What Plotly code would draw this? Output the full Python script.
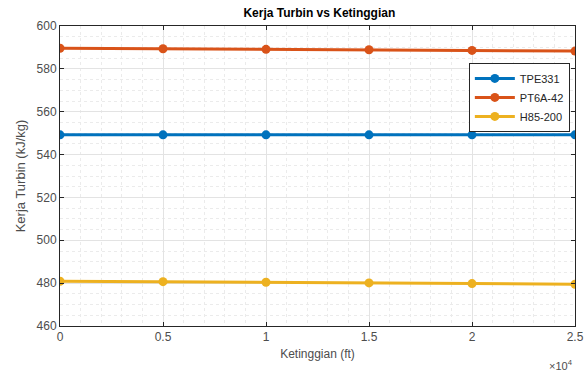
import plotly.graph_objects as go

altitude_ft = [0, 5000, 10000, 15000, 20000, 25000]
tpe331 = [549.2, 549.2, 549.2, 549.2, 549.2, 549.2]
pt6a42 = [589.6, 589.4, 589.1, 588.9, 588.6, 588.3]
h85200 = [480.9, 480.7, 480.4, 480.1, 479.8, 479.5]
x_tick_vals = [0, 5000, 10000, 15000, 20000, 25000]
x_tick_text = ["0", "0.5", "1", "1.5", "2", "2.5"]
y_tick_vals = [460, 480, 500, 520, 540, 560, 580, 600]

series = [("TPE331", tpe331, "#0072BD"), ("PT6A-42", pt6a42, "#D95319"), ("H85-200", h85200, "#EDB120")]

fig = go.Figure()
for name, vals, col in series:
    fig.add_trace(go.Scatter(x=altitude_ft, y=vals, name=name, mode="lines+markers",
                             line=dict(color=col, width=3), marker=dict(color=col, size=9)))

axis_common = dict(showline=True, linecolor="#262626", linewidth=1, mirror="ticks",
                   ticks="inside", ticklen=4, tickcolor="#262626", automargin=False,
                   showgrid=True, gridcolor="#e3e3e3", gridwidth=1, zeroline=False,
                   tickfont=dict(family="Liberation Sans, Arial", size=12, color="#4d4d4d"))

fig.update_layout(
    width=586, height=376,
    margin=dict(l=60, r=11, t=26, b=50),
    paper_bgcolor="white", plot_bgcolor="white",
    title=dict(text="<b>Kerja Turbin vs Ketinggian</b>", x=0.545, xanchor="center", y=0.967, yanchor="middle",
               font=dict(family="Liberation Sans, Arial", size=12, color="#000000")),
    legend=dict(x=0.99, xanchor="right", y=0.877, yanchor="top", bgcolor="white",
                bordercolor="#262626", borderwidth=1,
                font=dict(family="Liberation Sans, Arial", size=11, color="#262626"),
                tracegroupgap=0, itemwidth=40),
    showlegend=True,
)
fig.update_xaxes(range=[0, 25000], tickvals=x_tick_vals, ticktext=x_tick_text,
                 title=dict(text="Ketinggian (ft)", standoff=6,
                            font=dict(family="Liberation Sans, Arial", size=12, color="#4d4d4d")),
                 minor=dict(dtick=1000, showgrid=True, gridcolor="#ebebeb", griddash="dot", ticks=""),
                 **axis_common)
fig.update_yaxes(range=[460, 600], tickvals=y_tick_vals,
                 title=dict(text="Kerja Turbin (kJ/kg)", standoff=8,
                            font=dict(family="Liberation Sans, Arial", size=13, color="#4d4d4d")),
                 minor=dict(dtick=5, showgrid=True, gridcolor="#ebebeb", griddash="dot", ticks=""),
                 **axis_common)
fig.add_annotation(text="×10<sup>4</sup>", xref="paper", yref="paper", x=1.0, y=-0.13,
                   xanchor="right", yanchor="middle", showarrow=False,
                   font=dict(family="Liberation Sans, Arial", size=11, color="#4d4d4d"))

fig.write_html("out.html", config={"displayModeBar": False},
               post_script="document.body.style.margin='0';document.body.style.overflow='hidden';")
